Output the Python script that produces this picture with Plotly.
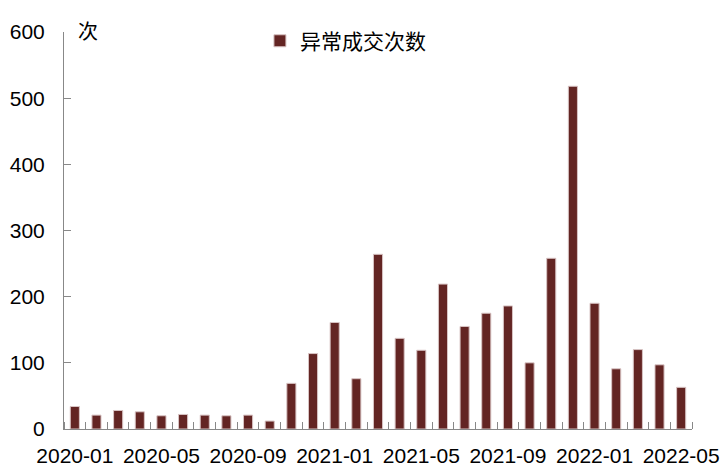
import plotly.graph_objects as go

months = ["2020-01","2020-02","2020-03","2020-04","2020-05","2020-06","2020-07","2020-08",
          "2020-09","2020-10","2020-11","2020-12","2021-01","2021-02","2021-03","2021-04",
          "2021-05","2021-06","2021-07","2021-08","2021-09","2021-10","2021-11","2021-12",
          "2022-01","2022-02","2022-03","2022-04","2022-05"]
counts = [34, 21, 28, 26, 20, 22, 21, 20, 21, 12, 69, 114, 161, 76, 264, 137,
          119, 219, 155, 175, 186, 100, 258, 518, 190, 91, 120, 97, 63]
series_name = "异常成交次数"
y_unit = "次"
y_ticks = [0, 100, 200, 300, 400, 500, 600]

pos = list(range(len(months)))
label_pos = pos[::4]
label_text = months[::4]
boundaries = [p - 0.5 for p in pos] + [pos[-1] + 0.5]

font_main = "Liberation Sans, Arial, Noto Sans CJK SC, sans-serif"
font_cjk = "Noto Sans CJK SC, sans-serif"

fig = go.Figure()
fig.add_trace(go.Bar(
    x=pos, y=counts, name=series_name,
    marker=dict(color="#632523", line=dict(color="#d8c4c4", width=1)),
    showlegend=True,
))

# page body has an 8px margin, so the figure is sized/placed to compensate
fig.update_layout(
    width=720, height=462,
    margin=dict(l=56, r=36, t=24, b=41, autoexpand=False),
    paper_bgcolor="white", plot_bgcolor="white",
    bargap=0.58,
    font=dict(family=font_main, size=21, color="black"),
    showlegend=True,
    legend=dict(x=0.312, y=0.977, xanchor="left", yanchor="middle",
                bgcolor="rgba(0,0,0,0)",
                font=dict(family=font_cjk, size=21, color="black"),
                itemwidth=30),
    xaxis=dict(
        range=[-0.5, len(months) - 0.5], automargin=False,
        tickmode="array", tickvals=label_pos, ticktext=label_text,
        ticks="", showgrid=False, zeroline=False,
        showline=True, linecolor="#888888", linewidth=1,
        tickfont=dict(size=21), ticklabelstandoff=8,
        minor=dict(tickmode="array", tickvals=boundaries, ticks="inside",
                   ticklen=7, tickcolor="#888888", tickwidth=1, showgrid=False),
    ),
    yaxis=dict(
        range=[0, 600], tickmode="array", tickvals=y_ticks, automargin=False,
        ticks="inside", ticklen=7, tickcolor="#888888", tickwidth=1,
        showgrid=False, zeroline=False,
        showline=True, linecolor="#888888", linewidth=1,
        tickfont=dict(size=21), ticklabelstandoff=14,
    ),
    annotations=[dict(text=y_unit, xref="paper", yref="paper", x=0.0196, y=1.005,
                      xanchor="left", yanchor="middle", showarrow=False,
                      font=dict(family=font_cjk, size=20, color="black"))],
)

fig.write_html("out.html")
